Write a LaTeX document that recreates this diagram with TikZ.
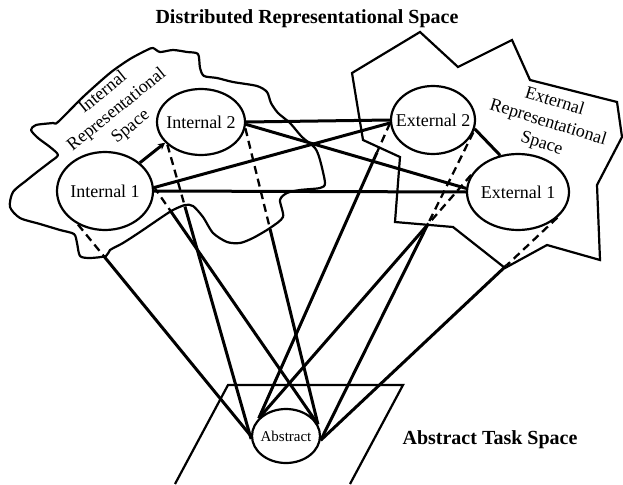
\documentclass[tikz,border=0pt]{standalone}
\usepackage{fontspec}
\setmainfont{Liberation Serif}
\usetikzlibrary{shapes.geometric,calc,arrows.meta}
\begin{document}
\begin{tikzpicture}[x=1pt,y=-1pt,
  ell/.style={draw, ellipse, fill=white, line width=2.2pt, inner sep=0pt, font=\fontsize{18}{22}\selectfont},
  link/.style={line width=3pt},
  dashlink/.style={line width=2.3pt, dash pattern=on 8pt off 5pt},
  outline/.style={line width=2.2pt, line join=round},
  lbl/.style={font=\fontsize{18}{22}\selectfont, align=center, inner sep=0pt},
  ttl/.style={font=\bfseries\fontsize{20}{24}\selectfont, inner sep=0pt}]
\useasboundingbox (0,0) rectangle (623,484);

% titles
\node[ttl] (title) at (307,19) {Distributed Representational Space};
\node[ttl] (tasklbl) at (490,440) {Abstract Task Space};

% internal space blob
\draw[outline] plot[smooth cycle, tension=0.45] coordinates {(58,122) (83,97) (110,73) (130,59) (147,50) (153,48) (160,52) (173,50) (187,52) (198,54) (200,68) (204,76) (217,78) (233,82) (257,86) (267,92) (271,103) (278,113) (290,123) (302,137) (315,148) (320,160) (325,183) (320,188) (300,190) (287,193) (280,200) (283,217) (270,228) (253,238) (240,243) (227,242) (213,233) (203,217) (193,206) (185,205) (173,210) (162,217) (140,232) (123,243) (110,250) (106,256) (90,258) (80,256) (77,243) (74,234) (60,230) (40,224) (20,218) (10,207) (13,192) (27,180) (37,172) (50,162) (58,155) (50,147) (38,138) (31,130) (36,125) (53,123)};

% external space polygon
\draw[outline, line join=miter] (352,73) -- (420,32) -- (458,67) -- (512,40) -- (530,80) -- (617,102) -- (622,137) -- (597,185) -- (600,260) -- (547,245) -- (505,268) -- (453,227) -- (395,222) -- (400,157) -- (363,140) -- cycle;

% abstract task space parallelogram
\draw[outline, line join=miter] (175,484) -- (228,385) -- (403,385) -- (350,484);

% space labels
\node[lbl, rotate=39] (intlbl) at (117,110) {Internal\\Representational\\Space};
\node[lbl, rotate=-17] (extlbl) at (548,123) {External\\Representational\\Space};

% representation nodes
\node[ell, minimum width=96pt, minimum height=78pt] (i1) at (105,191) {\makebox[0pt]{Internal 1}};
\node[ell, minimum width=88pt, minimum height=66pt] (i2) at (201,122) {\makebox[0pt]{Internal 2}};
\node[ell, minimum width=84pt, minimum height=68pt] (e2) at (433,120) {\makebox[0pt]{External 2}};
\node[ell, minimum width=102pt, minimum height=76pt] (e1) at (518,192) {\makebox[0pt]{External 1}};
\node[ell, minimum width=68pt, minimum height=54pt, font=\fontsize{15}{17}\selectfont] (ab) at (286,436) {\makebox[0pt]{Abstract}};

% links between representations
\draw[link, -{Stealth[length=7pt,width=7pt]}] (i1.39) -- (i2.210);
\draw[link] (i1.east) -- (e1.west);
\draw[link] (i1.4) -- (e2.184);
\draw[link] (i2.east) -- (e2.west);
\draw[link] (i2.-3) -- (e1.176);
\draw[link] (e2.-12) -- (e1.116);

% projections to abstract task space
\coordinate (b1) at ($(i1.231)!0.15!(ab.180)$);
\coordinate (b2) at ($(i1.5)!0.10!(ab.20)$);
\coordinate (b3) at ($(i2.214)!0.21!(ab.185)$);
\coordinate (b4) at ($(i2.-8)!0.34!(ab.20)$);
\coordinate (b5) at ($(e2.184)!0.10!(ab.147)$);
\coordinate (b6) at ($(e2.-17)!0.30!(ab.-7)$);
\coordinate (b7) at ($(e1.160)!0.20!(ab.147)$);
\coordinate (b8) at ($(e1.-33)!0.215!(ab.-7)$);

\draw[dashlink] (i1.231) -- (b1);  \draw[link] (b1) -- (ab.180);
\draw[dashlink] (i1.5) -- (b2);    \draw[link] (b2) -- (ab.20);
\draw[dashlink] (i2.214) -- (b3);  \draw[link] (b3) -- (ab.185);
\draw[dashlink] (i2.-8) -- (b4);   \draw[link] (b4) -- (ab.20);
\draw[dashlink] (e2.184) -- (b5);  \draw[link] (b5) -- (ab.147);
\draw[dashlink] (e2.-17) -- (b6);  \draw[link] (b6) -- (ab.-7);
\draw[dashlink] (e1.160) -- (b7);  \draw[link] (b7) -- (ab.147);
\draw[dashlink] (e1.-33) -- (b8);  \draw[link] (b8) -- (ab.-7);
\end{tikzpicture}
\end{document}
